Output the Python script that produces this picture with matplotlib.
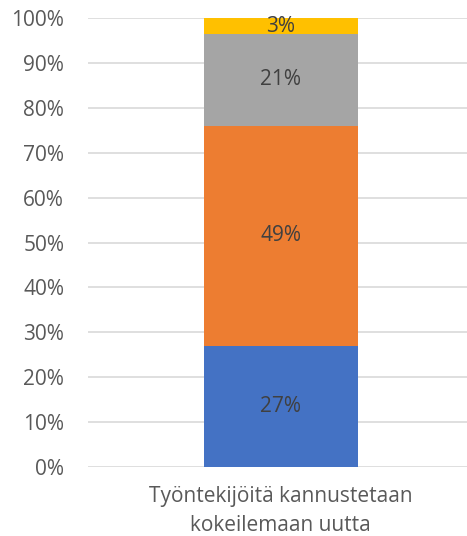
import matplotlib.pyplot as plt

# Data
category = "Työntekijöitä kannustetaan\nkokeilemaan uutta"
values = [27, 49, 20.5, 3.5]
labels = ["27%", "49%", "21%", "3%"]
colors = ["#4472C4", "#ED7D31", "#A5A5A5", "#FFC000"]

plt.rcParams['font.family'] = ['Open Sans', 'DejaVu Sans']

fig = plt.figure(figsize=(4.67, 5.36), dpi=100)
ax = fig.add_axes([0.188, 0.129, 0.812, 0.837])

bottom = 0
for val, lab, col in zip(values, labels, colors):
    ax.bar(0, val, bottom=bottom, width=0.81, color=col, zorder=3)
    ax.text(0, bottom + val / 2, lab, ha='center', va='center',
            fontsize=15, color='#404040', zorder=4)
    bottom += val

ax.set_xlim(-1.018, 0.982)
ax.set_ylim(0, 100)
ax.set_yticks(range(0, 101, 10))
ax.set_yticklabels([f"{t}%" for t in range(0, 101, 10)])
ax.set_xticks([0])
ax.set_xticklabels([category], linespacing=1.45)
ax.tick_params(axis='both', length=0, labelsize=15, colors='#595959')
ax.tick_params(axis='y', pad=17)
ax.tick_params(axis='x', pad=14)
ax.grid(axis='y', color='#D9D9D9', linewidth=1.2, zorder=0)
for s in ax.spines.values():
    s.set_visible(False)

fig.savefig('out.png', dpi=100)
